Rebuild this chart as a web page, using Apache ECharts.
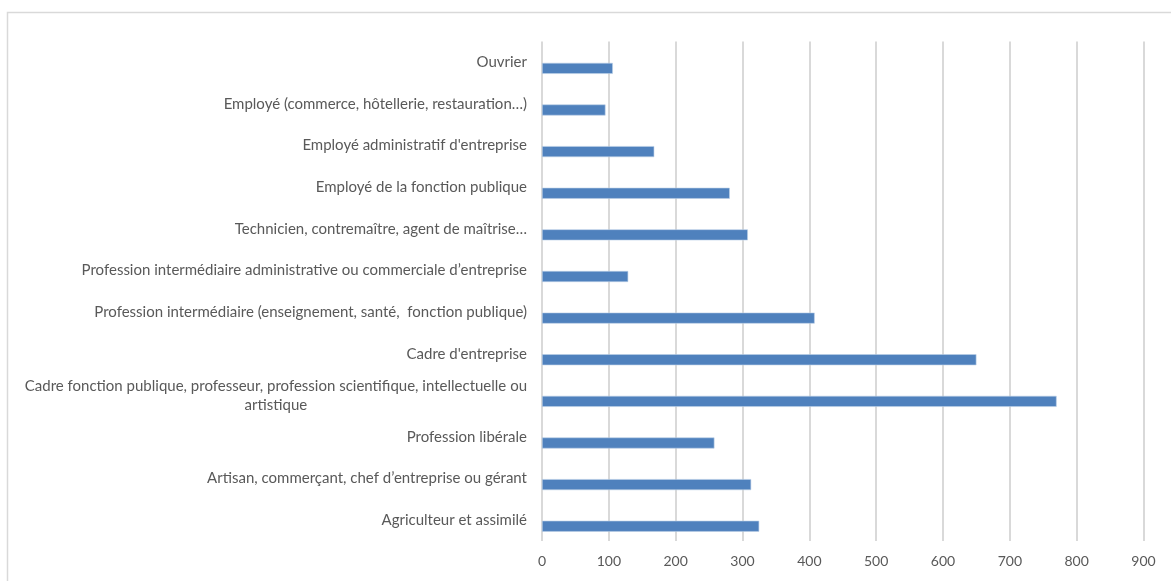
<!DOCTYPE html>
<html>
<head>
    <meta charset="utf-8">
    <title>Professions</title>
    <style>
        html, body { margin: 0; padding: 0; background: #fff; }
        #chart { width: 1171px; height: 581px; }
    </style>
</head>
<body>
<div id="chart"></div>
<script src="https://cdn.jsdelivr.net/npm/echarts@6/dist/echarts.min.js"></script>
<script>
    // catégories, de bas en haut (axe catégorie d'ECharts)
    var categories = [
        'Agriculteur et assimilé',
        'Artisan, commerçant, chef d\u2019entreprise ou gérant',
        'Profession libérale',
        'Cadre fonction publique, professeur, profession scientifique, intellectuelle ou\nartistique',
        'Cadre d\'entreprise',
        'Profession intermédiaire (enseignement, santé,  fonction publique)',
        'Profession intermédiaire administrative ou commerciale d\u2019entreprise',
        'Technicien, contremaître, agent de maîtrise…',
        'Employé de la fonction publique',
        'Employé administratif d\'entreprise',
        'Employé (commerce, hôtellerie, restauration…)',
        'Ouvrier'
    ];
    var values = [325, 313, 258, 770, 650, 408, 129, 308, 281, 168, 95, 106];
    var xTicks = [0, 100, 200, 300, 400, 500, 600, 700, 800, 900];

    var myChart = echarts.init(document.getElementById('chart'));

    var labelFont = 15;

    var option = {
        animation: false,
        backgroundColor: '#fff',
        textStyle: { fontFamily: 'Lato' },
        graphic: [{
            type: 'rect',
            shape: { x: 7.5, y: 12.5, width: 1200, height: 600 },
            style: { fill: 'none', stroke: '#d9d9d9', lineWidth: 1.5 },
            silent: true
        }],
        grid: { left: 542, right: 1171 - 1143.5, top: 41.5, bottom: 581 - 541 },
        xAxis: {
            type: 'value',
            min: xTicks[0],
            max: xTicks[xTicks.length - 1],
            interval: 100,
            axisLine: { show: false },
            axisTick: { show: false },
            axisLabel: {
                color: '#595959',
                fontSize: 14,
                margin: 13,
                fontFamily: 'Lato'
            },
            splitLine: { lineStyle: { color: '#d9d9d9', width: 2 } }
        },
        yAxis: {
            type: 'category',
            data: categories,
            axisLine: { show: false },
            axisTick: { show: false },
            axisLabel: {
                color: '#595959',
                fontSize: labelFont,
                margin: 15,
                lineHeight: 19,
                fontFamily: 'Lato',
                formatter: function (v) {
                    var parts = v.split('\n');
                    if (parts.length === 1) return v;
                    return parts.map(function (p) { return '{c|' + p + '}'; }).join('\n');
                },
                rich: {
                    c: { align: 'center', color: '#595959', fontSize: labelFont, lineHeight: 19, fontFamily: 'Lato' }
                }
            },
            splitLine: { show: false }
        },
        series: [{
            // série vide, comme dans le classeur d'origine : décale la barre vers le bas
            name: 'vide',
            type: 'bar',
            data: [],
            barWidth: 11,
            barGap: '10%',
            silent: true
        }, {
            name: 'Effectif',
            type: 'bar',
            data: values,
            barWidth: 11,
            barGap: '10%',
            itemStyle: {
                color: '#4f81bd',
                borderColor: '#bcd0e8',
                borderWidth: 0.6
            },
            silent: true
        }]
    };
    myChart.setOption(option);
</script>
</body>
</html>
